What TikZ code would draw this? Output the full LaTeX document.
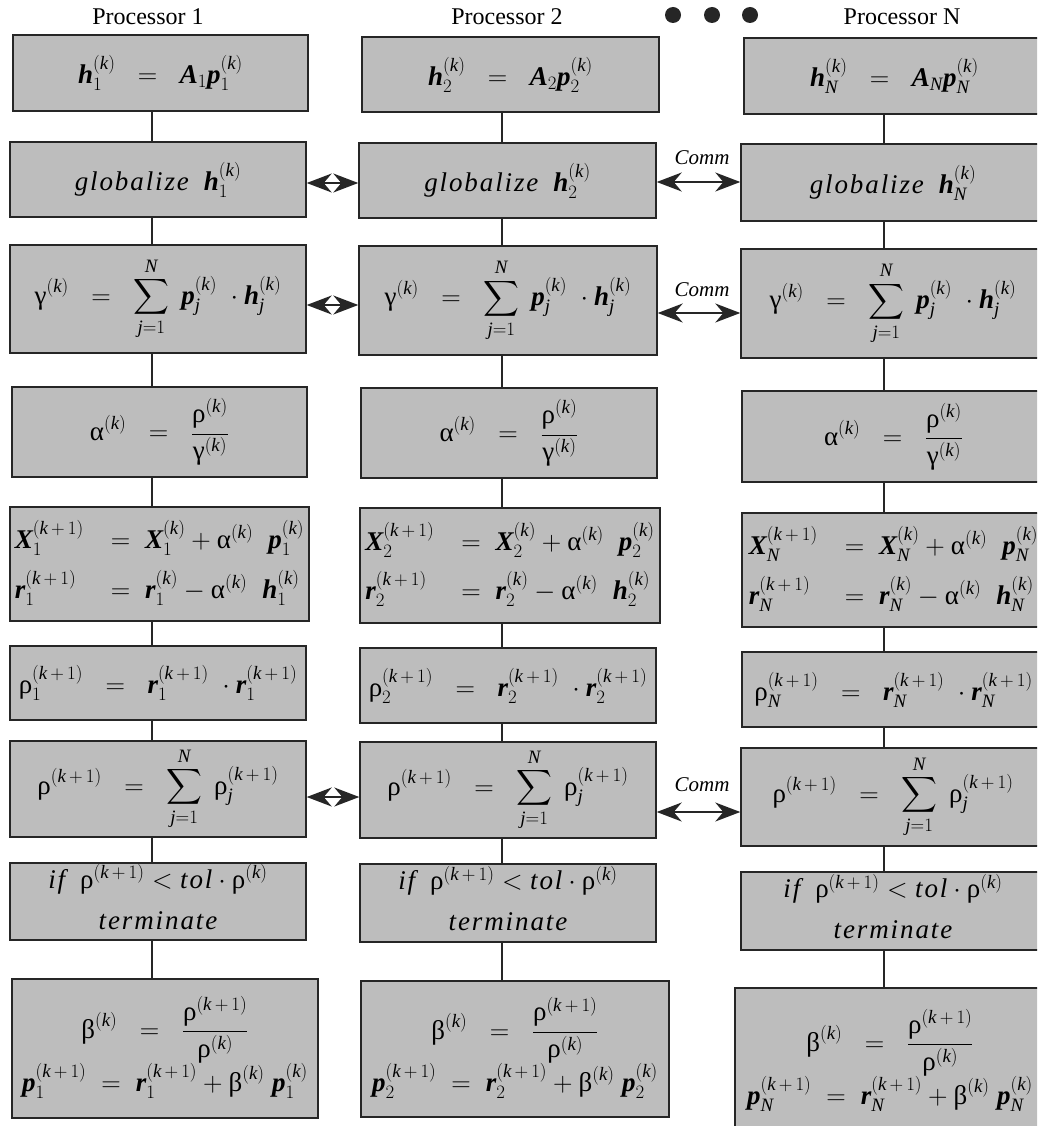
\RequirePackage{fix-cm}
\documentclass[tikz,border=0pt]{standalone}
\usepackage{amsmath}
\usepackage{fontspec}
\setmainfont{Liberation Serif}
\usetikzlibrary{arrows.meta}
\definecolor{boxfill}{HTML}{BDBDBD}
\definecolor{boxline}{HTML}{262626}
\newcommand\B[1]{\text{\bfseries\itshape #1}}
\newcommand\K{^{(\mathit{k})}}
\newcommand\KK{^{(\mathit{k}\,+\,1)}}
\newcommand\EQ{\;\;=\;\;}
\newcommand\LS[1]{\text{\addfontfeature{LetterSpace=7}\itshape #1}}
\newcommand\tga{\text{γ}}
\newcommand\tal{\text{α}}
\newcommand\trho{\text{ρ}}
\newcommand\tbe{\text{β}}
\newcommand\cA[1]{$\B{h}_{#1}\K\EQ\B{A}_{#1}\B{p}_{#1}\K$}
\newcommand\cB[1]{$\LS{globalize}\;\;\B{h}_{#1}\K$}
\newcommand\cC{$\displaystyle\tga\K\EQ\sum_{\mathit{j}=1}^{\mathit{N}}\;\B{p}_{\mathit{j}}\K\;\cdot\B{h}_{\mathit{j}}\K$}
\newcommand\cD{$\displaystyle\tal\K\EQ\frac{\trho\K}{\tga\K}$}
\newcommand\cE[1]{$\begin{array}{@{}l@{\quad=\;\;}l@{}}\B{X}_{#1}\KK & \B{X}_{#1}\K+\tal\K\;\;\B{p}_{#1}\K\\[12pt] \B{r}_{#1}\KK & \B{r}_{#1}\K-\tal\K\;\;\B{h}_{#1}\K\end{array}$}
\newcommand\cF[1]{$\trho_{#1}\KK\EQ\B{r}_{#1}\KK\;\cdot\B{r}_{#1}\KK$}
\newcommand\cG{$\displaystyle\trho\KK\EQ\sum_{\mathit{j}=1}^{\mathit{N}}\;\trho_{\mathit{j}}\KK$}
\newcommand\cH{$\begin{array}{c}\LS{if}\;\;\trho\KK<\LS{tol}\cdot\trho\K\\[10pt] \LS{terminate}\end{array}$}
\newcommand\cI[1]{$\begin{array}{c}\displaystyle\tbe\K\EQ\frac{\trho\KK}{\trho\K}\\[12pt] \B{p}_{#1}\KK\;=\;\B{r}_{#1}\KK+\tbe\K\;\B{p}_{#1}\K\end{array}$}
\tikzset{
  pbox/.style={draw=boxline, line width=1.4pt, fill=boxfill, inner sep=0pt,
    font=\fontsize{27}{31}\selectfont},
  vline/.style={draw=boxline, line width=1.3pt},
  comm/.style={draw=boxline, line width=1.5pt,
    {Stealth[length=25pt,width=19pt,inset=8pt]}-{Stealth[length=25pt,width=19pt,inset=8pt]}},
  hdr/.style={font=\fontsize{24}{28}\selectfont},
  commlbl/.style={font=\fontsize{21}{24}\selectfont\itshape},
  dot/.style={circle, fill=boxline, minimum size=16pt, inner sep=0pt},
}
\newcommand\pbx[6]{\node[pbox, minimum width={#4pt-#2pt}, minimum height={#5pt-#3pt}] (#1) at ({(#2+#4)/2},{(#3+#5)/2}) {#6};}
\begin{document}
\begin{tikzpicture}[x=1pt,y=-1pt]
\useasboundingbox (0,0) rectangle (1037,1126);
\clip (0,0) rectangle (1037,1126);
% headers
\node[hdr] (p1) at (148,17) {Processor 1};
\node[hdr] (p2) at (507,17) {Processor 2};
\node[hdr] (pN) at (902,17) {Processor N};
\node[dot] (d1) at (673,15) {};
\node[dot] (d2) at (712,15) {};
\node[dot] (d3) at (750,15) {};
% column 1
\pbx{c1-1}{13}{35}{308}{111}{\cA{1}}
\pbx{c1-2}{10}{142}{306}{217}{\cB{1}}
\pbx{c1-3}{10}{245}{306}{353}{\cC}
\pbx{c1-4}{12}{387}{307}{477}{\cD}
\pbx{c1-5}{10}{507}{309}{621}{\cE{1}}
\pbx{c1-6}{10}{646}{306}{720}{\cF{1}}
\pbx{c1-7}{10}{741}{306}{837}{\cG}
\pbx{c1-8}{10}{863}{306}{940}{\cH}
\pbx{c1-9}{12}{979}{318}{1118}{\cI{1}}
% column 2
\pbx{c2-1}{362}{37}{659}{112}{\cA{2}}
\pbx{c2-2}{359}{143}{656}{218}{\cB{2}}
\pbx{c2-3}{359}{246}{657}{355}{\cC}
\pbx{c2-4}{361}{388}{657}{478}{\cD}
\pbx{c2-5}{360}{508}{660}{623}{\cE{2}}
\pbx{c2-6}{360}{648}{656}{723}{\cF{2}}
\pbx{c2-7}{360}{742}{656}{838}{\cG}
\pbx{c2-8}{360}{864}{656}{942}{\cH}
\pbx{c2-9}{361}{981}{669}{1117}{\cI{2}}
% column 3
\pbx{c3-1}{744}{38}{1045}{114}{\cA{\mathit{N}}}
\pbx{c3-2}{741}{144}{1045}{221}{\cB{\mathit{N}}}
\pbx{c3-3}{741}{249}{1045}{358}{\cC}
\pbx{c3-4}{742}{391}{1045}{482}{\cD}
\pbx{c3-5}{742}{513}{1045}{627}{\cE{\mathit{N}}}
\pbx{c3-6}{742}{652}{1045}{727}{\cF{\mathit{N}}}
\pbx{c3-7}{741}{748}{1045}{846}{\cG}
\pbx{c3-8}{741}{872}{1045}{950}{\cH}
\pbx{c3-9}{735}{988}{1045}{1135}{\cI{\mathit{N}}}
% vertical connectors
\coordinate (v1) at (152,0);
\coordinate (v2) at (502,0);
\coordinate (v3) at (884,0);
\foreach \c in {1,2,3}{
  \foreach \r [evaluate=\r as \n using int(\r+1)] in {1,...,8}{
    \draw[vline] (c\c-\r.south -| v\c) -- (c\c-\n.north -| v\c);
  }
}
% communication arrows
\coordinate (a2l) at (0,183);
\coordinate (a2r) at (0,182);
\coordinate (a3l) at (0,305);
\coordinate (a3r) at (0,313);
\coordinate (a7l) at (0,797);
\coordinate (a7r) at (0,812);
\draw[comm] (c1-2.east |- a2l) -- (c2-2.west |- a2l);
\draw[comm] (c2-2.east |- a2r) -- (c3-2.west |- a2r);
\draw[comm] (c1-3.east |- a3l) -- (c2-3.west |- a3l);
\draw[comm] (c2-3.east |- a3r) -- (c3-3.west |- a3r);
\draw[comm] (c1-7.east |- a7l) -- (c2-7.west |- a7l);
\draw[comm] (c2-7.east |- a7r) -- (c3-7.west |- a7r);
\node[commlbl] (m2) at (702,158) {Comm};
\node[commlbl] (m3) at (702,290) {Comm};
\node[commlbl] (m7) at (702,785) {Comm};
\end{tikzpicture}
\end{document}
